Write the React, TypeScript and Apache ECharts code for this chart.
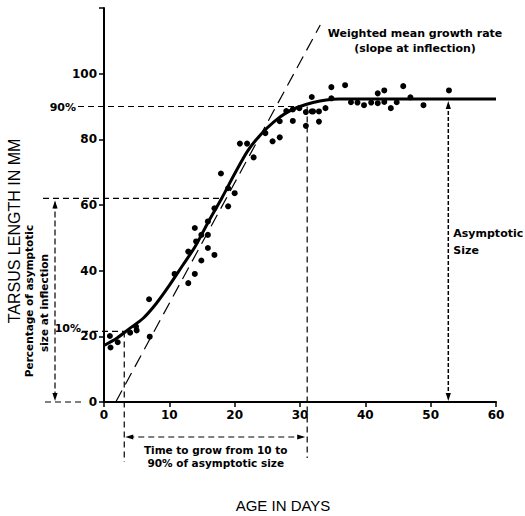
import React, { useEffect, useRef } from 'react';
import * as echarts from 'echarts';

// Observed tarsus lengths (mm) by age (days)
const observedDays = [
  0.9, 1.0, 2.1, 4.0, 4.9, 5.0, 6.9, 7.0, 10.8, 12.9, 12.9, 13.9, 13.9, 14.1, 14.9, 14.9,
  15.9, 15.9, 15.9, 16.9, 16.9, 17.9, 19.0, 19.0, 20.0, 20.8, 21.9, 22.9, 24.7, 25.8, 26.9,
  26.9, 27.9, 28.9, 28.9, 29.9, 30.9, 30.9, 31.8, 31.8, 32.0, 32.9, 32.9, 33.9, 34.8, 34.8,
  36.9, 37.8, 38.8, 39.8, 40.9, 41.9, 41.9, 42.9, 42.9, 43.9, 44.8, 45.8, 46.9, 48.9, 52.8,
];
const observedLengths = [
  20.1, 16.6, 18.2, 21.1, 23.0, 21.8, 31.3, 19.9, 39.0, 36.2, 45.8, 53.0, 39.0, 48.9, 43.1, 50.9,
  46.9, 55.0, 50.9, 44.8, 59.0, 69.6, 59.6, 65.1, 63.6, 78.7, 78.7, 74.5, 81.9, 79.4, 80.6,
  85.5, 88.6, 85.6, 89.1, 89.5, 88.3, 84.1, 92.9, 88.5, 88.5, 85.4, 88.5, 89.5, 95.9, 92.5,
  96.5, 91.3, 91.2, 90.4, 91.2, 94.0, 91.0, 94.9, 91.4, 89.5, 91.3, 96.2, 92.8, 90.4, 94.9,
];

// Fitted growth curve
const curveDays = [0, 2, 4, 6, 8, 10, 12, 14, 16, 18, 20, 22, 24, 26, 28, 30, 32, 34, 36, 40, 50, 60];
const curveLengths = [17.2, 19.5, 22.5, 25.5, 30, 35.5, 41.5, 47.5, 55, 62, 69.5, 76.5, 81.5, 85.3, 88.2, 90, 91.2, 92, 92.3, 92.3, 92.3, 92.3];

// Tangent at inflection (weighted mean growth rate)
const tangentDays = [1.8, 33.1];
const tangentLengths = [0, 114.8];

// Reference levels
const level10 = 21.5;
const level90 = 90;
const levelInflection = 62;
const asymptote = 92.3;
const day10 = 3.1;
const day90 = 31.1;
const dayInflection = 17.8;
const dayAsymArrow = 52.7;

const xTicks = [0, 10, 20, 30, 40, 50, 60];
const yTicks = [0, 20, 40, 60, 80, 100, 120];

const FONT = '"Liberation Sans", Arial, Helvetica, sans-serif';
const WIDE = '"DejaVu Sans", Verdana, sans-serif';

export default function App() {
  const ref = useRef<HTMLDivElement>(null);

  useEffect(() => {
    if (!ref.current) return;
    const chart = echarts.init(ref.current, undefined, { renderer: 'svg' });
    const scatterData = observedDays.map((d, i) => [d, observedLengths[i]]);
    const curveData = curveDays.map((d, i) => [d, curveLengths[i]]);
    const tangentData = tangentDays.map((d, i) => [d, tangentLengths[i]]);

    chart.setOption({
      animation: false,
      backgroundColor: '#fff',
      grid: { left: 104, right: 29, top: 8, bottom: 114, outerBoundsMode: 'none', containLabel: false },
      xAxis: {
        type: 'value',
        min: xTicks[0],
        max: xTicks[xTicks.length - 1],
        interval: 10,
        splitLine: { show: false },
        axisLine: { lineStyle: { color: '#000', width: 2 } },
        axisTick: { length: 5, lineStyle: { color: '#000', width: 1.5 } },
        axisLabel: { color: '#000', fontSize: 12, fontWeight: 'bold', fontFamily: WIDE, margin: 7 },
      },
      yAxis: {
        type: 'value',
        min: yTicks[0],
        max: yTicks[yTicks.length - 1],
        interval: 20,
        splitLine: { show: false },
        axisLine: { lineStyle: { color: '#000', width: 2 } },
        axisTick: { length: 5, lineStyle: { color: '#000', width: 1.5 } },
        axisLabel: {
          color: '#000', fontSize: 12, fontWeight: 'bold', fontFamily: WIDE, margin: 7,
          formatter: (v: number) => (v === 120 ? '' : String(v)),
        },
      },
      series: [
        {
          type: 'line',
          data: tangentData,
          showSymbol: false,
          clip: false,
          lineStyle: { color: '#000', width: 1.2, type: [13, 7] },
          z: 1,
        },
        {
          type: 'line',
          data: curveData,
          smooth: 0.3,
          showSymbol: false,
          lineStyle: { color: '#000', width: 3 },
          z: 3,
        },
        {
          type: 'scatter',
          data: scatterData,
          symbolSize: 6,
          itemStyle: { color: '#000', opacity: 1 },
          z: 4,
        },
      ],
    });

    const P = (d: number, v: number) => chart.convertToPixel({ xAxisIndex: 0, yAxisIndex: 0 }, [d, v]) as number[];
    const dash = (x1: number, y1: number, x2: number, y2: number, pattern: number[] = [6, 4], w = 1.2) => ({
      type: 'line', silent: true, z: 10,
      shape: { x1, y1, x2, y2 },
      style: { stroke: '#000', lineWidth: w, lineDash: pattern },
    });
    const arrow = (x: number, y: number, dir: 'up' | 'down' | 'left' | 'right') => {
      const L = 8, H = 2.6;
      let pts: number[][];
      if (dir === 'up') pts = [[x, y], [x - H, y + L], [x + H, y + L]];
      else if (dir === 'down') pts = [[x, y], [x - H, y - L], [x + H, y - L]];
      else if (dir === 'left') pts = [[x, y], [x + L, y - H], [x + L, y + H]];
      else pts = [[x, y], [x - L, y - H], [x - L, y + H]];
      return { type: 'polygon', silent: true, z: 11, shape: { points: pts }, style: { fill: '#000' } };
    };
    const text = (x: number, y: number, str: string, size: number, weight: string, align = 'center', rotation = 0, family = WIDE) => ({
      type: 'text', silent: true, z: 12, x, y, rotation,
      style: {
        text: str, fill: '#000', fontSize: size, fontWeight: weight, fontFamily: family,
        align, verticalAlign: 'middle',
      },
    });

    const [, y0] = P(0, 0);
    const [xD10, y10] = P(day10, level10);
    const [xD90, y90] = P(day90, level90);
    const [xInf, yInf] = P(dayInflection, levelInflection);
    const [xAsym, yAsym] = P(dayAsymArrow, asymptote);
    const bottomY = 462;
    const spanY = 437;

    chart.setOption({
      graphic: [
        dash(78, y90, xD90, y90),
        text(76, y90 + 1, '90%', 11, 'bold', 'right'),
        dash(82, y10, xD10, y10),
        text(81, y10 - 3, '10%', 11, 'bold', 'right'),
        dash(43, yInf, xInf, yInf),
        dash(45, y0, 84, y0),
        dash(55, yInf + 4, 55, y0 - 4, [6, 3]),
        arrow(55, yInf + 2, 'up'),
        arrow(55, y0 - 1, 'down'),
        dash(xD10, y10, xD10, bottomY),
        dash(xD90, y90, xD90, bottomY - 4),
        dash(xD10 + 4, spanY, xD90 - 4, spanY),
        arrow(xD10 + 1, spanY, 'left'),
        arrow(xD90 - 2, spanY, 'right'),
        text((xD10 + xD90) / 2, 450, 'Time to grow from 10 to', 10.5, 'bold'),
        text((xD10 + xD90) / 2, 463, '90% of asymptotic size', 10.5, 'bold'),
        dash(xAsym, yAsym + 6, xAsym, y0 - 6, [4, 2], 1.5),
        arrow(xAsym, yAsym + 2, 'up'),
        arrow(xAsym, y0 - 1, 'down'),
        text(xAsym + 5, 233, 'Asymptotic', 11, 'bold', 'left'),
        text(xAsym + 5, 250, 'Size', 11, 'bold', 'left'),
        text(415, 33, 'Weighted mean growth rate', 11, 'bold'),
        text(415, 48, '(slope at inflection)', 11, 'bold'),
        text(29, 301, 'Percentage of asymptotic', 10.5, 'bold', 'center', Math.PI / 2),
        text(44, 303, 'size at inflection', 10.5, 'bold', 'center', Math.PI / 2),
        text(14, 231, 'TARSUS LENGTH IN MM', 16, 'normal', 'center', Math.PI / 2, FONT),
        text(283, 505, 'AGE IN DAYS', 15, 'normal', 'center', 0, FONT),
      ],
    });

    return () => chart.dispose();
  }, []);

  return <div ref={ref} style={{ position: 'absolute', left: 0, top: 0, width: 525, height: 516 }} />;
}
